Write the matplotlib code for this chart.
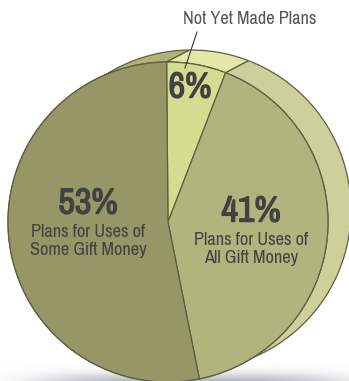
import numpy as np
import matplotlib
matplotlib.use('Agg')
import matplotlib.pyplot as plt
import matplotlib.patheffects as pe
from matplotlib.patches import Polygon

# share of respondents by gift money plans
shares = [6, 41, 53]
pct_labels = ['6%', '41%', '53%']
top_colors = ['#D5DC8F', '#B1B47C', '#969666']
side_colors = ['#E3E8A8', '#CDD09A', '#B0B27A']

W, H = 349, 381
narrow = ['Archivo Narrow', 'Liberation Sans', 'DejaVu Sans']
edge = '#5E5F3E'
text_col = '#424242'

fig = plt.figure(figsize=(W / 100, H / 100), dpi=100)
ax = fig.add_axes([0, 0, 1, 1])

center = (168, H - 222)
radius = 160
offset = (23, 12)

# soft shadow under the disc
xx, yy = np.meshgrid(np.arange(W), np.arange(40))
shadow = np.exp(-((xx - 190) / 150.0) ** 4 - ((yy - 42) / 10.0) ** 2)
rgba = np.zeros((40, W, 4))
rgba[..., 0] = 0.56
rgba[..., 1] = 0.58
rgba[..., 2] = 0.62
rgba[..., 3] = shadow * 0.7
ax.imshow(rgba, extent=(0, W, 0, 40), origin='upper', aspect='auto', zorder=0)

wedges, _ = ax.pie(shares, colors=top_colors, startangle=90.5, counterclock=False,
                   center=center, radius=radius, frame=True,
                   wedgeprops=dict(edgecolor=edge, linewidth=0.9))

# extruded rim: swept arc of each wedge, drawn behind the top face
order = [2, 0, 1]
for i in order:
    w = wedges[i]
    t = np.radians(np.linspace(w.theta1, w.theta2, 120))
    fx = center[0] + radius * np.cos(t)
    fy = center[1] + radius * np.sin(t)
    pts = np.vstack([np.column_stack([fx, fy]),
                     np.column_stack([fx + offset[0], fy + offset[1]])[::-1]])
    ax.add_patch(Polygon(pts, closed=True, facecolor=side_colors[i], edgecolor=edge,
                         linewidth=0.9, zorder=1))
for w in wedges:
    w.set_zorder(2)

# big percentages: the narrow face has one weight, so thicken it with a stroke
bold = [pe.withStroke(linewidth=1.0, foreground=text_col)]
pct_style = dict(fontsize=26, family=narrow, color=text_col, ha='center', va='center',
                 zorder=3, path_effects=bold)
sub_style = dict(fontsize=13.2, family=narrow, color=text_col, ha='center', va='center',
                 linespacing=1.12, zorder=3)

ax.text(88, H - 203, pct_labels[2], **pct_style)
ax.text(88, H - 241, 'Plans for Uses of\nSome Gift Money', **sub_style)
ax.text(251, H - 211, pct_labels[1], **pct_style)
ax.text(251, H - 249, 'Plans for Uses of\nAll Gift Money', **sub_style)
ax.text(190, H - 87, pct_labels[0], **pct_style)

ax.text(250, H - 19, 'Not Yet Made Plans', fontsize=13.2, family=narrow,
        color='#555555', ha='center', va='center', zorder=3)
ax.plot([197, 185], [H - 32, H - 68], color='#333333', linewidth=0.8, zorder=3)

ax.set_xlim(0, W)
ax.set_ylim(0, H)
ax.set_axis_off()
fig.savefig('out.png', dpi=100)
